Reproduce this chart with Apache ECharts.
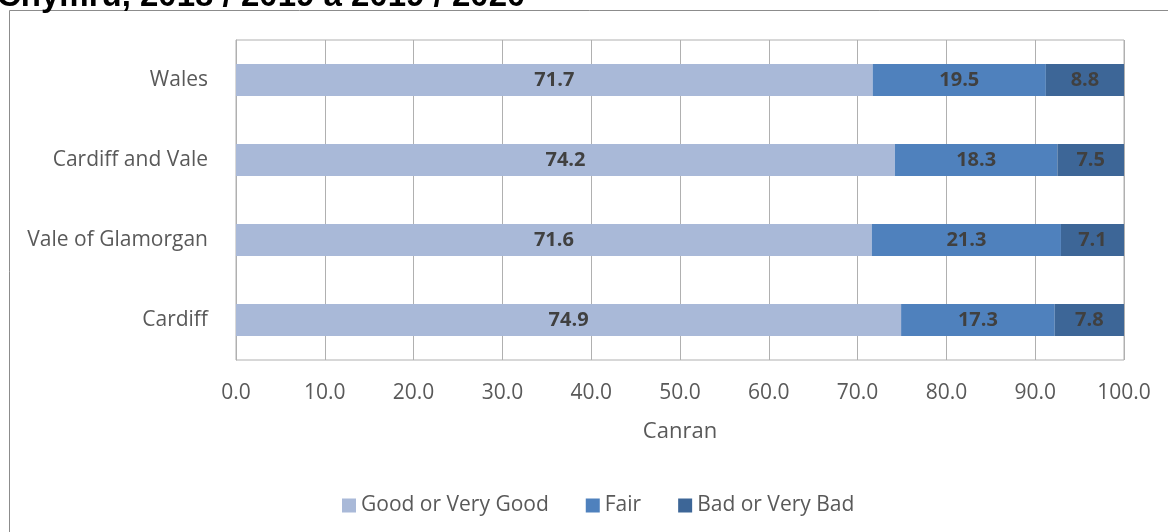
<!DOCTYPE html>
<html>
<head>
<meta charset="utf-8">
<script src="https://cdn.jsdelivr.net/npm/echarts@6/dist/echarts.min.js"></script>
<style>
  html, body { margin: 0; padding: 0; background: #fff; }
  #chart { width: 1168px; height: 532px; }
</style>
</head>
<body>
<div id="chart"></div>
<script>
// areas, top to bottom
var areas = ['Wales', 'Cardiff and Vale', 'Vale of Glamorgan', 'Cardiff']
var goodValues = [71.7, 74.2, 71.6, 74.9]
var fairValues = [19.5, 18.3, 21.3, 17.3]
var badValues = [8.8, 7.5, 7.1, 7.8]
var seriesNames = ['Good or Very Good', 'Fair', 'Bad or Very Bad']

var chart = echarts.init(document.getElementById('chart'))

function barSeries (name, values, color) {
  return {
    name: name,
    type: 'bar',
    stack: 'total',
    barWidth: '40%',
    data: values,
    itemStyle: { color: color },
    label: {
      show: true,
      position: 'inside',
      formatter: function (p) { return p.value.toFixed(1) },
      color: '#404040',
      fontFamily: 'Open Sans',
      fontWeight: 'bold',
      fontSize: 20
    }
  }
}

chart.setOption({
  animation: false,
  color: ['#A9B9D8', '#4F81BD', '#3D6697'],
  graphic: [
    {
      type: 'rect',
      shape: { x: 9.5, y: 10.5, width: 1170, height: 540 },
      style: { fill: 'none', stroke: '#8c8c8c', lineWidth: 1 },
      silent: true
    },
    {
      type: 'text',
      style: {
        text: 'Chymru, 2018 / 2019 a 2019 / 2020',
        x: -3,
        y: -3,
        verticalAlign: 'middle',
        font: 'bold 33px "Liberation Sans"',
        fill: '#000'
      },
      silent: true
    }
  ],
  grid: {
    left: 236,
    right: 44,
    top: 40,
    bottom: 172,
    show: true,
    borderColor: '#b0b0b0',
    borderWidth: 1
  },
  legend: {
    data: seriesNames,
    bottom: 11,
    left: 337,
    icon: 'rect',
    itemWidth: 14,
    itemHeight: 14,
    itemGap: 37,
    textStyle: { color: '#595959', fontFamily: 'Open Sans', fontSize: 21 }
  },
  xAxis: {
    type: 'value',
    min: 0,
    max: 100,
    interval: 10,
    name: 'Canran',
    nameLocation: 'middle',
    nameGap: 61,
    nameTextStyle: { color: '#595959', fontFamily: 'Open Sans', fontSize: 22 },
    axisLabel: {
      color: '#595959',
      fontFamily: 'Open Sans',
      fontSize: 21,
      margin: 23,
      formatter: function (v) { return v.toFixed(1) }
    },
    axisLine: { show: false },
    axisTick: { show: false },
    splitLine: { show: true, lineStyle: { color: '#b0b0b0', width: 1 } }
  },
  yAxis: {
    type: 'category',
    inverse: true,
    data: areas,
    axisLine: { show: true, lineStyle: { color: '#b0b0b0' } },
    axisTick: { show: false },
    axisLabel: {
      color: '#595959',
      fontFamily: 'Open Sans',
      fontSize: 21,
      margin: 28
    }
  },
  series: [
    barSeries(seriesNames[0], goodValues, '#A9B9D8'),
    barSeries(seriesNames[1], fairValues, '#4F81BD'),
    barSeries(seriesNames[2], badValues, '#3D6697')
  ]
})
</script>
</body>
</html>
